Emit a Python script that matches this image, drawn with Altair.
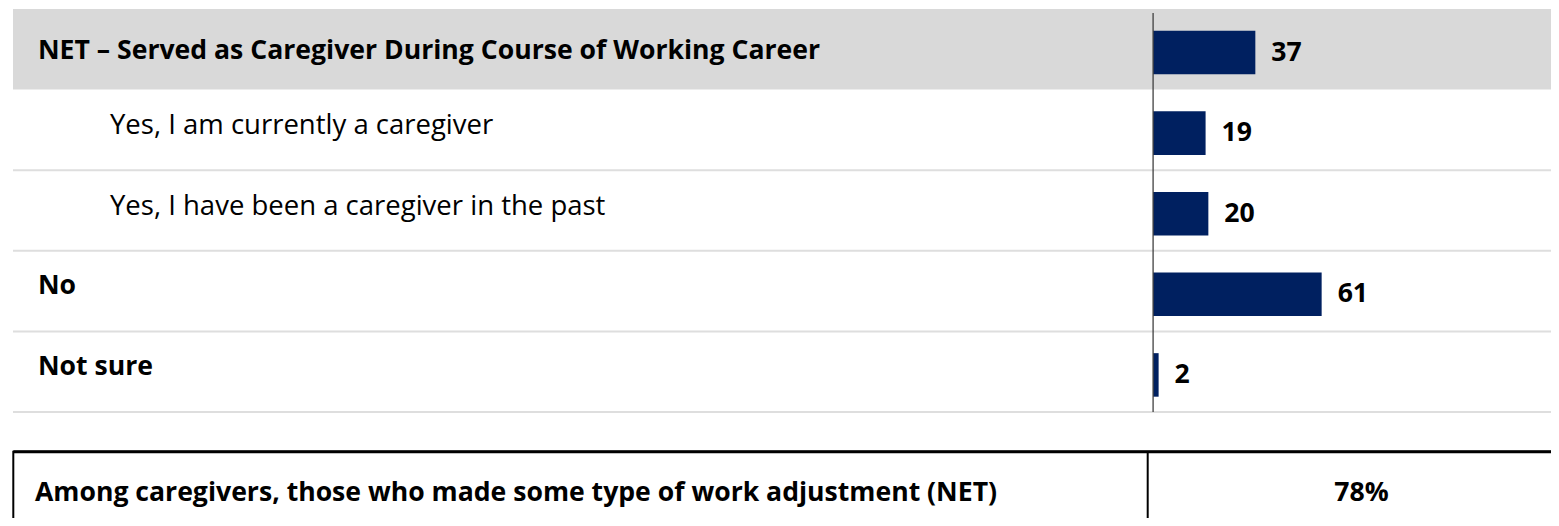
import altair as alt
import pandas as pd

# ---- data ----
categories = [
    "NET – Served as Caregiver During Course of Working Career",
    "Yes, I am currently a caregiver",
    "Yes, I have been a caregiver in the past",
    "No",
    "Not sure",
]
values = [37, 19, 20, 61, 2]
levels = ["net", "sub", "sub", "top", "top"]
table_label = ["Among caregivers, those who made some type of work adjustment (NET)"]
table_value = ["78%"]

df = pd.DataFrame({"cat": categories, "value": values, "level": levels,
                   "i": list(range(len(categories)))})
tdf = pd.DataFrame({"label": table_label, "value": table_value})

# ---- layout ----
W = 1543
H = 403
FONT = "Open Sans"
FS = 26.6
FS_N = 27.5
NAVY = "#002060"
GRAY = "#D9D9D9"

yscale = alt.Scale(domain=[0, 5], reverse=True, nice=False, zero=False)
xscale = alt.Scale(domain=[-414.4, 144.0], nice=False, zero=False)

base = alt.Chart(df)

band = base.transform_filter("datum.level == 'net'").transform_calculate(
    t="datum.i", b="datum.i + 1"
).mark_rect(color=GRAY).encode(
    x=alt.value(5), x2=alt.value(W),
    y=alt.Y("t:Q", scale=yscale, axis=None), y2="b:Q",
)

seps = base.transform_filter("datum.i >= 1").transform_calculate(
    s="datum.i + 1"
).mark_rule(color="#DEDEDE", strokeWidth=2).encode(
    x=alt.value(5), x2=alt.value(W),
    y=alt.Y("s:Q", scale=yscale, axis=None),
)

bars = base.transform_calculate(
    x0="0", y0="datum.i + 0.27", y1="datum.i + 0.81"
).mark_rect(color=NAVY).encode(
    x=alt.X("x0:Q", scale=xscale, axis=None), x2="value:Q",
    y=alt.Y("y0:Q", scale=yscale, axis=None), y2="y1:Q",
)

axis_line = alt.Chart(pd.DataFrame({"z": [0]})).mark_rule(
    color="#404040", strokeWidth=1.3
).encode(
    x=alt.X("z:Q", scale=xscale, axis=None), y=alt.value(4), y2=alt.value(H),
)

vlabels = base.transform_calculate(yc="datum.i + 0.54").mark_text(
    align="left", baseline="middle", dx=16, font=FONT, fontSize=FS,
    fontWeight="bold", color="black",
).encode(
    x=alt.X("value:Q", scale=xscale, axis=None),
    y=alt.Y("yc:Q", scale=yscale, axis=None),
    text="value:Q",
)

def left_labels(cond, xpos, weight, dy, fs):
    return base.transform_filter(cond).transform_calculate(
        yc="datum.i + 0.5"
    ).mark_text(
        align="left", baseline="middle", font=FONT, fontSize=fs,
        fontWeight=weight, color="black", dy=dy,
    ).encode(
        x=alt.value(xpos),
        y=alt.Y("yc:Q", scale=yscale, axis=None),
        text="cat:N",
    )

lab_net = left_labels("datum.level == 'net'", 30, "bold", 2, FS)
lab_sub = left_labels("datum.level == 'sub'", 102, "normal", -4, FS_N)
lab_top = left_labels("datum.level == 'top'", 30, "bold", -5, FS)

tbase = alt.Chart(tdf)
TOP = 442.7
box = tbase.mark_rect(fill="white", stroke="black", strokeWidth=2).encode(
    x=alt.value(5.3), x2=alt.value(W + 30), y=alt.value(TOP), y2=alt.value(600),
)
top_rule = tbase.mark_rule(color="black", strokeWidth=3).encode(
    x=alt.value(5.3), x2=alt.value(W + 30), y=alt.value(TOP),
)
divider = tbase.mark_rule(color="black", strokeWidth=2).encode(
    x=alt.value(1139.7), y=alt.value(TOP), y2=alt.value(600),
)
t_label = tbase.mark_text(
    align="left", baseline="middle", font=FONT, fontSize=FS,
    fontWeight="bold", color="black",
).encode(x=alt.value(27), y=alt.value(484), text="label:N")
t_value = tbase.mark_text(
    align="center", baseline="middle", font=FONT, fontSize=FS,
    fontWeight="bold", color="black",
).encode(x=alt.value(1353.5), y=alt.value(484), text="value:N")

chart = alt.layer(
    band, seps, bars, axis_line, vlabels, lab_net, lab_sub, lab_top,
    box, top_rule, divider, t_label, t_value,
).properties(
    width=W, height=H,
    padding={"left": 0, "top": 1, "right": 0, "bottom": 106},
    autosize=alt.AutoSizeParams(type="none"),
    background="white",
).configure_view(stroke=None)

chart.save("out.html", embed_options={"renderer": "svg", "actions": False})
